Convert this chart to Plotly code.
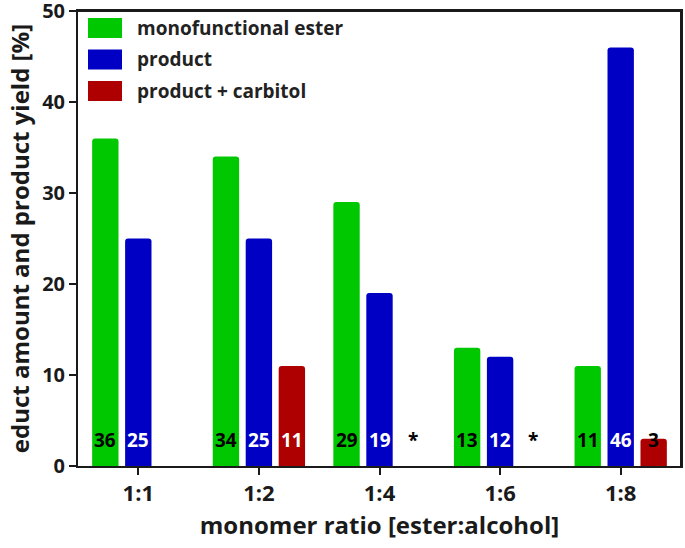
import plotly.graph_objects as go

categories = ["1:1", "1:2", "1:4", "1:6", "1:8"]
mono_ester = [36, 34, 29, 13, 11]
product = [25, 25, 19, 12, 46]
product_carbitol = [0, 11, 0, 0, 3]
carbitol_labels = ["", "11", "*", "*", "3"]

series_names = ["monofunctional ester", "product", "product + carbitol"]
colors = ["#00C800", "#0000C4", "#AE0000"]

FONT = "Open Sans"
fig = go.Figure()
for name, vals, col in zip(series_names, [mono_ester, product, product_carbitol], colors):
    fig.add_trace(go.Bar(x=categories, y=vals, name=name, marker_color=col,
                         marker_line_width=0, showlegend=False))

# value labels near bottom of bars
slot_px = 33
label_y = 2.85
label_sets = [
    ([str(v) for v in mono_ester], ["black"] * 5),
    ([str(v) for v in product], ["white"] * 5),
    (carbitol_labels, ["black", "white", "black", "black", "black"]),
]
for i, (labels, cols) in enumerate(label_sets):
    for cat, lab, c in zip(categories, labels, cols):
        if not lab:
            continue
        fig.add_annotation(x=cat, y=label_y, text=f"<b>{lab}</b>", showarrow=False,
                           xshift=(i - 1) * slot_px, yanchor="middle",
                           font=dict(family=FONT, size=19, color=c))

# legend drawn manually (wide swatches)
PX0, PY0, PW, PH = 78, 466, 603, 455
def px(x):
    return (x - PX0) / PW
def py(y):
    return (PY0 - y) / PH
for k, (name, col) in enumerate(zip(series_names, colors)):
    yc = 28 + k * 31.5
    fig.add_shape(type="rect", xref="paper", yref="paper",
                  x0=px(88), x1=px(122), y0=py(yc - 10), y1=py(yc + 10),
                  fillcolor=col, line_width=0)
    fig.add_annotation(xref="paper", yref="paper", x=px(135), y=py(yc),
                       xanchor="left", yanchor="middle", showarrow=False,
                       text=f"<b>{name}</b>", font=dict(family=FONT, size=19, color="#222"))

# plot frame (top and right edges) as thin filled strips
fig.add_shape(type="rect", xref="paper", yref="paper",
              x0=0, x1=1 + 1 / PW, y0=1 - 1 / PH, y1=1 + 1 / PH,
              fillcolor="#1a1a1a", line_width=0, layer="above")
fig.add_shape(type="rect", xref="paper", yref="paper",
              x0=1 - 1 / PW, x1=1 + 1 / PW, y0=0, y1=1 + 1 / PH,
              fillcolor="#1a1a1a", line_width=0, layer="above")

fig.update_layout(
    width=685, height=548,
    margin=dict(l=78, r=4, t=11, b=82, autoexpand=False),
    plot_bgcolor="white", paper_bgcolor="white",
    barmode="group", bargap=0.18, bargroupgap=0.2, barcornerradius=3,
    font=dict(family=FONT, color="#1a1a1a"),
)
fig.update_xaxes(
    showline=True, linecolor="#1a1a1a", linewidth=2, mirror=True,
    ticks="outside", ticklen=7, tickwidth=2, tickcolor="#1a1a1a",
    tickfont=dict(family=FONT, size=22, weight="bold"),
    title=dict(text="<b>monomer ratio [ester:alcohol]</b>", font=dict(family=FONT, size=24), standoff=11),
    showgrid=False, automargin=False, ticklabeloverflow="allow",
)
fig.update_yaxes(
    range=[0, 50], dtick=10,
    showline=True, linecolor="#1a1a1a", linewidth=2, mirror=True,
    ticks="outside", ticklen=7, tickwidth=2, tickcolor="#1a1a1a",
    tickfont=dict(family=FONT, size=20, weight="bold"),
    title=dict(text="<b>educt amount and product yield [%]</b>", font=dict(family=FONT, size=24), standoff=6),
    showgrid=False, zeroline=False, automargin=False, ticklabeloverflow="allow",
)
fig.write_html("out.html", config={"displayModeBar": False},
               post_script="document.body.style.margin='0px';")
